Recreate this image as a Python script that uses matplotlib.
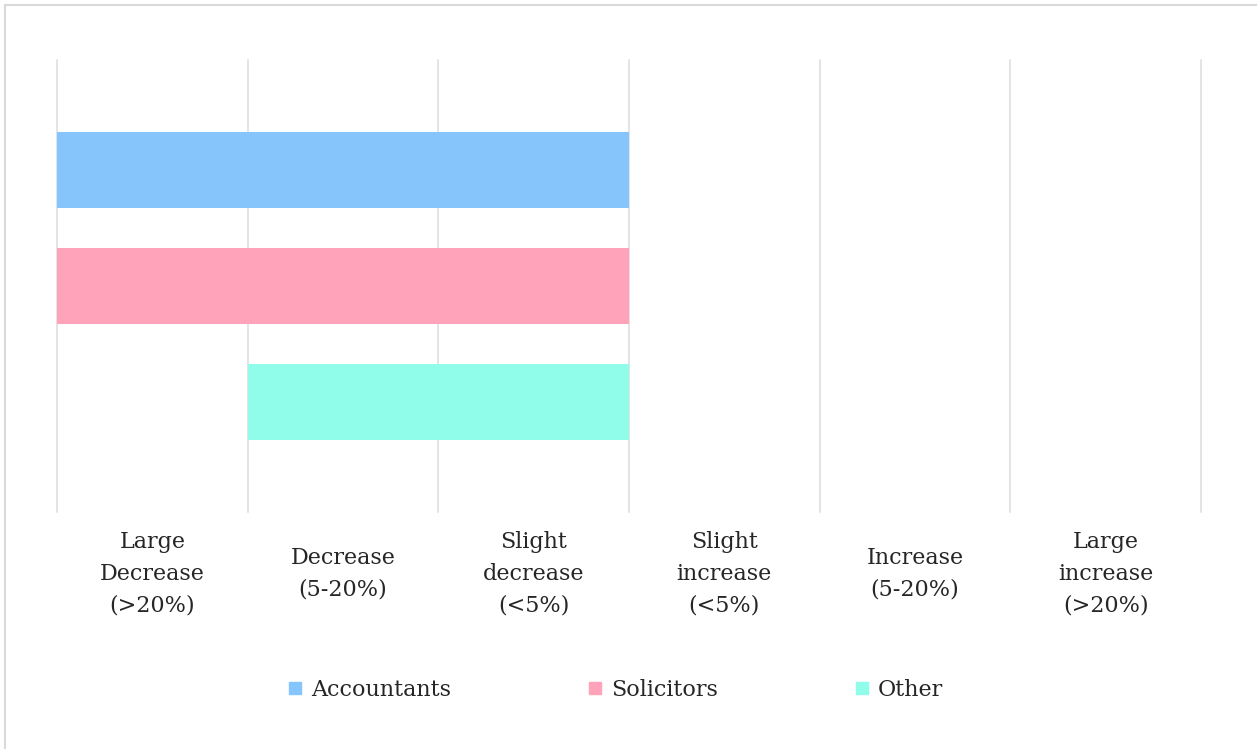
import numpy as np
import matplotlib
matplotlib.use("Agg")
import matplotlib.pyplot as plt
from matplotlib.lines import Line2D

# groups (top to bottom) and the span of each floating bar on the change scale
groups = ["Accountants", "Solicitors", "Other"]
span_start = [0, 0, 1]
span_end = [3, 3, 3]
colors = ["#85c5fb", "#ffa3ba", "#8ffdea"]

# change bands shown between the gridlines
bands = ["Large\nDecrease\n(>20%)", "Decrease\n(5-20%)", "Slight\ndecrease\n(<5%)",
         "Slight\nincrease\n(<5%)", "Increase\n(5-20%)", "Large\nincrease\n(>20%)"]

plt.rcParams['font.family'] = ['DejaVu Serif']
text_col = "#262626"
grid_col = "#dcdcdc"

fig = plt.figure(figsize=(12.57, 7.49), dpi=100)
ax = fig.add_axes([57/1257, 1 - 512/749, (1201 - 57)/1257, 452/749])

ypos = np.arange(len(groups))
widths = np.array(span_end) - np.array(span_start)
ax.barh(ypos, widths, left=span_start, height=0.66, color=colors, zorder=2)

ax.set_xlim(0, len(bands))
ax.set_ylim(2.95, -0.95)
ax.set_xticks(np.arange(len(bands) + 1))
ax.set_xticklabels([])
ax.set_yticks([])
ax.tick_params(length=0)
ax.grid(axis="x", color=grid_col, lw=1.1, zorder=0)
for gl in ax.get_xgridlines():
    gl.set_clip_on(False)
for s in ax.spines.values():
    s.set_visible(False)

# band labels centred in each interval
for i, lab in enumerate(bands):
    ax.text(i + 0.5, -0.137, lab, transform=ax.get_xaxis_transform(),
            ha="center", va="center", multialignment="center",
            fontsize=16, color=text_col, linespacing=1.58)

handles = [Line2D([], [], ls="none", marker="s", markersize=9,
                  markerfacecolor=c, markeredgecolor=c) for c in colors]
fig.legend(handles, groups, loc="center", bbox_to_anchor=(616/1257, 1 - 690/749),
           ncol=3, frameon=False, fontsize=16, handlelength=0.6, handletextpad=0.4,
           columnspacing=6.2, labelcolor=text_col)

# thin frame along the top and left edges
fig.add_artist(Line2D([5/1257, 1], [1 - 5/749, 1 - 5/749], color="#d9d9d9", lw=1.5,
                      transform=fig.transFigure))
fig.add_artist(Line2D([5/1257, 5/1257], [0, 1 - 5/749], color="#d9d9d9", lw=1.5,
                      transform=fig.transFigure))

fig.savefig("out.png", dpi=100, facecolor="white")
